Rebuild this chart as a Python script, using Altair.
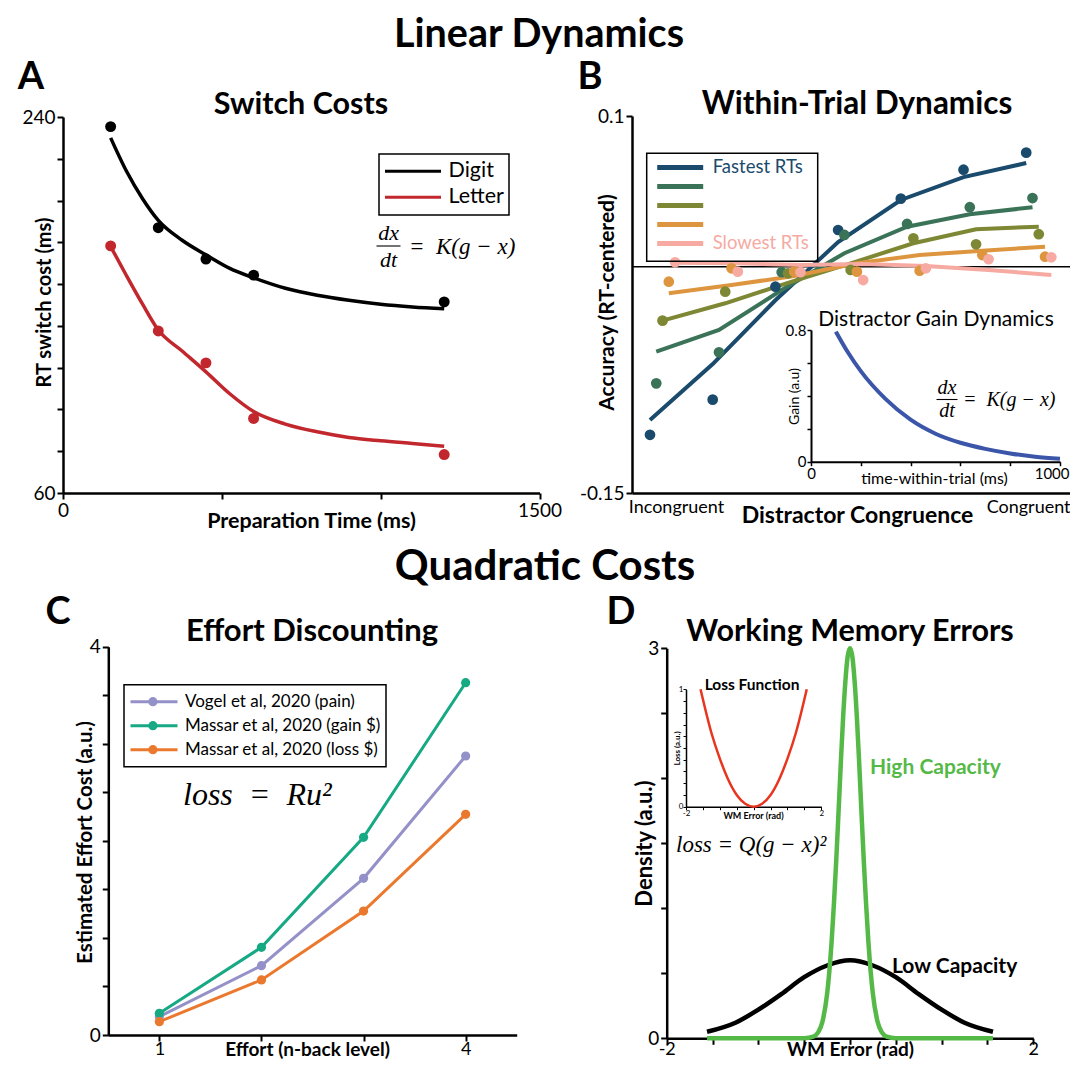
import altair as alt
import pandas as pd

W, H = 1062, 1052
M = 8
FONT = "Lato"
SERIF = "Liberation Serif"
EN = "\u2002"


def px(v):
    return v - M


def py(v):
    return v - M


# ---------------- data ----------------
# Panel A: switch costs
prep_time = [150, 300, 450, 600, 1200]
digit_cost = [235.4, 187.0, 172.0, 164.3, 151.5]
letter_cost = [178.3, 137.6, 122.3, 95.7, 78.4]
fit_time = [150, 200, 250, 300, 375, 450, 525, 600, 700, 800, 900, 1000, 1100, 1200]
digit_fit = [230, 214, 201, 190.5, 181, 174, 167.5, 163, 158, 154.7, 152.3, 150.4, 149.1, 148.2]
letter_fit = [178, 164, 150.5, 138, 128, 118, 107.5, 99, 93, 89.3, 86.6, 85, 83.7, 82.4]
tasks = ["Digit", "Letter"]
task_colors = ["#000000", "#c1272d"]

# Panel B: within-trial dynamics
rt_groups = ["Fastest RTs", "RT bin 2", "RT bin 3", "RT bin 4", "Slowest RTs"]
rt_colors = ["#1b4b6c", "#3a7358", "#7e8733", "#dd963f", "#f6aaa2"]
congruence = [1, 2, 3, 4, 5, 6, 7]
rt_shift = [0.0, 0.1, 0.2, 0.3, 0.4]
acc_points = [
    [-0.1114, -0.0881, -0.0132, 0.0244, 0.0452, 0.0644, 0.0757],
    [-0.0773, -0.0567, -0.0036, 0.0211, 0.0284, 0.0395, 0.0456],
    [-0.0357, -0.0165, -0.0043, -0.0021, 0.0189, 0.0149, 0.0216],
    [-0.0099, -0.0010, -0.0032, -0.0032, -0.0026, 0.0078, 0.0067],
    [0.0030, -0.0032, -0.0036, -0.0088, -0.0010, 0.0050, 0.0063],
]
acc_fit = [
    [-0.1016, -0.0645, -0.0222, 0.0164, 0.0443, 0.0595, 0.0688],
    [-0.0563, -0.0419, -0.0154, 0.0090, 0.0266, 0.0348, 0.0395],
    [-0.0357, -0.0242, -0.0107, 0.0023, 0.0156, 0.0249, 0.0266],
    [-0.0176, -0.0121, -0.0061, 0.0023, 0.0078, 0.0107, 0.0133],
    [0.0027, 0.0023, 0.0012, 0.0019, 0.0005, -0.0021, -0.0054],
]
gain_time = [100, 150, 200, 300, 400, 500, 600, 700, 800, 900, 1000]
gain_value = [0.79, 0.66, 0.55, 0.38, 0.255, 0.17, 0.115, 0.078, 0.05, 0.03, 0.018]

# Panel C: effort discounting
nback = [1, 2, 3, 4]
studies = ["Vogel et al, 2020 (pain)", "Massar et al, 2020 (gain $)", "Massar et al, 2020 (loss $)"]
study_colors = ["#9490c8", "#17a884", "#ea792d"]
vogel = [0.189, 0.714, 1.614, 2.874]
massar_gain = [0.224, 0.903, 2.036, 3.629]
massar_loss = [0.137, 0.567, 1.277, 2.273]

# Panel D: working memory errors
high_x = [-1.56, -0.6, -0.5, -0.4, -0.35, -0.3, -0.25, -0.2, -0.175, -0.15, -0.125, -0.1, -0.075, -0.05, -0.025, 0,
          0.025, 0.05, 0.075, 0.1, 0.125, 0.15, 0.175, 0.2, 0.25, 0.3, 0.35, 0.4, 0.5, 0.6, 1.56]
high_y = [0, 0, 0.0, 0.012, 0.043, 0.13, 0.34, 0.75, 1.04, 1.37, 1.74, 2.12, 2.47, 2.75, 2.94, 3.0,
          2.94, 2.75, 2.47, 2.12, 1.74, 1.37, 1.04, 0.75, 0.34, 0.13, 0.043, 0.012, 0.0, 0, 0]
low_x = [-1.56, -1.25, -1.0, -0.75, -0.5, -0.25, 0, 0.25, 0.5, 0.75, 1.0, 1.25, 1.56]
low_y = [0.05, 0.12, 0.22, 0.34, 0.47, 0.56, 0.60, 0.56, 0.47, 0.34, 0.22, 0.12, 0.05]
loss_x = [-1.57, -1.25, -1.0, -0.75, -0.5, -0.25, 0, 0.25, 0.5, 0.75, 1.0, 1.25, 1.57]
loss_y = [1.0, 0.63, 0.41, 0.23, 0.10, 0.025, 0, 0.025, 0.10, 0.23, 0.41, 0.63, 1.0]

# ---------------- helpers ----------------
_one = pd.DataFrame({"k": [0]})


def scale(domain, r0, r1):
    return alt.Scale(domain=domain, range=[r0, r1], nice=False, zero=False)


def lab_expr(mapping):
    s = "''"
    for v, t in reversed(list(mapping.items())):
        s = f"datum.value == {v} ? '{t}' : {s}"
    return s


def bottom_axis(y_ref, values, labels, title=None, title_x=None, title_dy=None,
                label_size=19, title_size=18, dw=2.5, ts=6, tw=2, pad=2, ticks=True,
                title_weight="bold", **extra):
    kw = dict(orient="bottom", offset=py(y_ref) - H, values=values, labelExpr=lab_expr(labels),
              labelFontSize=label_size, domainWidth=dw, tickWidth=tw, labelPadding=pad,
              ticks=ticks, labelFlush=False, labelOverlap=False, grid=False)
    if ticks:
        kw["tickSize"] = ts
    if title:
        kw.update(title=title, titleX=px(title_x), titleY=title_dy, titleFontSize=title_size,
                  titleFontWeight=title_weight, titleBaseline="middle", titleAlign="center", titleAngle=0)
    else:
        kw["title"] = None
    kw.update(extra)
    return alt.Axis(**kw)


def left_axis(x_ref, values, labels, title=None, title_dx=None, title_y=None,
              label_size=19, title_size=18, dw=2.5, ts=6, tw=2, pad=2, title_weight="bold"):
    kw = dict(orient="left", offset=-px(x_ref), values=values, labelExpr=lab_expr(labels),
              labelFontSize=label_size, domainWidth=dw, tickSize=ts, tickWidth=tw, labelPadding=pad,
              labelFlush=False, labelOverlap=False, grid=False)
    if title:
        kw.update(title=title, titleX=title_dx, titleY=py(title_y), titleFontSize=title_size,
                  titleFontWeight=title_weight, titleBaseline="middle", titleAlign="center", titleAngle=270)
    else:
        kw["title"] = None
    return alt.Axis(**kw)


layers = []


def note(text, x, y, size, weight="normal", color="black", font=FONT, align="center", italic=False):
    kw = dict(text=text, fontSize=size, fontWeight=weight, color=color, font=font, align=align,
              baseline="middle")
    if italic:
        kw["fontStyle"] = "italic"
    layers.append(alt.Chart(_one).mark_text(**kw).encode(x=alt.value(px(x)), y=alt.value(py(y))))


def frac_bar(x1, x2, y, w=1.1):
    layers.append(alt.Chart(_one).mark_rule(color="black", strokeWidth=w).encode(
        x=alt.value(px(x1)), x2=alt.value(px(x2)), y=alt.value(py(y))))


def fraction(cxp, y_mid, half, size, gap):
    note("dx", cxp, y_mid - gap, size, font=SERIF, italic=True)
    frac_bar(cxp - half, cxp + half, y_mid)
    note("dt", cxp, y_mid + gap, size, font=SERIF, italic=True)


# ---------------- Panel A ----------------
xA = scale([0, 1500], px(63), px(539.5))
yA = scale([60, 240], py(493), py(117))
dfA_fit = pd.DataFrame({"t": fit_time * 2, "cost": digit_fit + letter_fit,
                        "task": [tasks[0]] * len(fit_time) + [tasks[1]] * len(fit_time)})
dfA_pts = pd.DataFrame({"t": prep_time * 2, "cost": digit_cost + letter_cost,
                        "task": [tasks[0]] * len(prep_time) + [tasks[1]] * len(prep_time)})
colA = alt.Scale(domain=tasks, range=task_colors)

layers.append(alt.Chart(dfA_fit).mark_line(strokeWidth=3.5, interpolate="monotone").encode(
    x=alt.X("t:Q", scale=xA, axis=bottom_axis(493, [0, 500, 1000, 1500], {0: "0", 1500: "1500"},
                                              "Preparation Time (ms)", 311, 28, title_size=21.5)),
    y=alt.Y("cost:Q", scale=yA, axis=left_axis(63, list(range(60, 241, 20)), {60: "60", 240: "240"},
                                               "RT switch cost (ms)", -19, 302, title_size=20)),
    color=alt.Color("task:N", scale=colA, legend=alt.Legend(
        orient="none", legendX=px(379), legendY=py(154), title=None, symbolType="stroke",
        symbolSize=56 ** 2, symbolStrokeWidth=3, labelFontSize=21.5, labelOffset=6, padding=4.5,
        clipHeight=25.5, rowPadding=0, strokeColor="black", labelLimit=0)),
    detail="task:N",
))
layers.append(alt.Chart(dfA_pts).mark_circle(size=120, opacity=1).encode(
    x=alt.X("t:Q", scale=xA, axis=None),
    y=alt.Y("cost:Q", scale=yA, axis=None),
    color=alt.Color("task:N", scale=colA, legend=None),
))

# ---------------- Panel B ----------------
xB = scale([0.713, 7.73], px(632), px(1072))
yB = scale([-0.15, 0.1], py(493), py(116))
rows_p, rows_f = [], []
for g, name in enumerate(rt_groups):
    for i, lv in enumerate(congruence):
        rows_p.append({"lv": lv + rt_shift[g], "acc": acc_points[g][i], "grp": name})
        rows_f.append({"lv": lv + rt_shift[g], "acc": acc_fit[g][i], "grp": name})
dfB_pts = pd.DataFrame(rows_p)
dfB_fit = pd.DataFrame(rows_f)
colB = alt.Scale(domain=rt_groups, range=rt_colors)
dfB_zero = pd.DataFrame({"x0": [0.713], "x1": [7.73], "y": [0.0]})

layers.append(alt.Chart(dfB_zero).mark_rule(color="black", strokeWidth=1.6).encode(
    x=alt.X("x0:Q", scale=xB, axis=bottom_axis(493, [1.415, 7.03], {1.415: "Incongruent", 7.03: "Congruent"},
                                               "Distractor Congruence", 857, 22, label_size=18,
                                               title_size=23, ticks=False, pad=5)),
    x2="x1:Q",
    y=alt.Y("y:Q", scale=yB, axis=left_axis(632, [-0.15, 0.1], {-0.15: "-0.15", 0.1: "0.1"},
                                            "Accuracy (RT-centered)", -25, 302, title_size=21)),
))
layers.append(alt.Chart(dfB_fit).mark_line(strokeWidth=4).encode(
    x=alt.X("lv:Q", scale=xB, axis=None),
    y=alt.Y("acc:Q", scale=yB, axis=None),
    color=alt.Color("grp:N", scale=colB, legend=alt.Legend(
        orient="none", legendX=px(646.7), legendY=py(153.3), title=None, symbolType="stroke",
        symbolSize=46 ** 2, symbolStrokeWidth=5, labelFontSize=18.5, labelOffset=7, padding=8,
        clipHeight=12.2, rowPadding=0, strokeColor="black", labelLimit=0,
        labelExpr="datum.label == 'Fastest RTs' || datum.label == 'Slowest RTs' ? datum.label : ''",
        labelColor={"expr": f"datum.label == 'Fastest RTs' ? '{rt_colors[0]}' : '{rt_colors[4]}'"})),
))
layers.append(alt.Chart(dfB_pts).mark_circle(size=115, opacity=1).encode(
    x=alt.X("lv:Q", scale=xB, axis=None),
    y=alt.Y("acc:Q", scale=yB, axis=None),
    color=alt.Color("grp:N", scale=colB, legend=None),
))

# inset B
xBi = scale([0, 1000], px(811), px(1060))
yBi = scale([0, 0.8], py(461.7), py(330))
dfB_gain = pd.DataFrame({"t": gain_time, "g": gain_value})
layers.append(alt.Chart(dfB_gain).mark_line(strokeWidth=4, color="#3b55a8", interpolate="monotone").encode(
    x=alt.X("t:Q", scale=xBi, axis=bottom_axis(
        461.7, [0, 200, 400, 600, 800, 1000], {0: "0", 1000: "1000"},
        "time-within-trial (ms)", 934, 17, label_size=15, title_size=16, dw=2, ts=4, tw=1.5, pad=1,
        title_weight="normal",
        labelAlign={"expr": "datum.value == 1000 ? 'right' : 'center'"},
        labelOffset={"expr": "datum.value == 1000 ? 9 : 0"})),
    y=alt.Y("g:Q", scale=yBi, axis=left_axis(811, [0, 0.2, 0.4, 0.6, 0.8], {0: "0", 0.8: "0.8"},
                                             "Gain (a.u)", -17, 396, label_size=15, title_size=14,
                                             dw=2, ts=4, tw=1.5, pad=1, title_weight="normal")),
))

# ---------------- Panel C ----------------
xC = scale([0.5, 4.5], px(108.3), px(516.7))
yC = scale([0, 4], py(1035), py(646.7))
dfC = pd.DataFrame({"n": nback * 3, "cost": vogel + massar_gain + massar_loss,
                    "study": [studies[0]] * 4 + [studies[1]] * 4 + [studies[2]] * 4})
colC = alt.Scale(domain=studies, range=study_colors)
layers.append(alt.Chart(dfC).mark_line(strokeWidth=3).encode(
    x=alt.X("n:Q", scale=xC, axis=bottom_axis(1035, [1, 2, 3, 4], {1: "1", 4: "4"},
                                              "Effort (n-back level)", 307, 14, title_size=19,
                                              label_size=18, pad=8, labelBaseline="middle")),
    y=alt.Y("cost:Q", scale=yC, axis=left_axis(108.3, [0, 0.5, 1, 1.5, 2, 2.5, 3, 3.5, 4], {0: "0", 4: "4"},
                                               "Estimated Effort Cost (a.u.)", -23, 842, title_size=20.5)),
    color=alt.Color("study:N", scale=colC, legend=alt.Legend(
        orient="none", legendX=px(124), legendY=py(684.7), title=None, symbolType="stroke",
        symbolSize=47 ** 2, symbolStrokeWidth=3, labelFontSize=17, labelOffset=6, padding=5,
        clipHeight=24, rowPadding=0, strokeColor="black", labelLimit=0, zindex=1)),
))
layers.append(alt.Chart(dfC).mark_circle(size=85, opacity=1).encode(
    x=alt.X("n:Q", scale=xC, axis=None),
    y=alt.Y("cost:Q", scale=yC, axis=None),
    color=alt.Color("study:N", scale=colC, legend=alt.Legend(
        orient="none", legendX=px(124) + 23.5 - 4.6, legendY=py(684.7), title=None, symbolType="circle",
        symbolSize=85, symbolStrokeWidth=0, labelExpr="''", padding=5, clipHeight=24, rowPadding=0,
        zindex=2)),
))

# ---------------- Panel D ----------------
xD = scale([-2, 2], px(666.7), px(1033.3))
yD = scale([0, 3], py(1038.3), py(648.3))
dfD_low = pd.DataFrame({"e": low_x, "d": low_y})
dfD_high = pd.DataFrame({"e": high_x, "d": high_y})
layers.append(alt.Chart(dfD_low).mark_line(strokeWidth=4.5, color="black", interpolate="monotone").encode(
    x=alt.X("e:Q", scale=xD, axis=bottom_axis(1038.3, [-2, -1.5, -1, -0.5, 0, 0.5, 1, 1.5, 2], {-2: "-2", 2: "2"},
                                              "WM Error (rad)", 850, 11.5, title_size=19,
                                              label_size=18, pad=5.5, labelBaseline="middle")),
    y=alt.Y("d:Q", scale=yD, axis=left_axis(666.7, [0, 0.5, 1, 1.5, 2, 2.5, 3], {0: "0", 3: "3"},
                                            "Density (a.u.)", -22, 843, title_size=22)),
))
layers.append(alt.Chart(dfD_high).mark_line(strokeWidth=4.5, color="#55b947", interpolate="monotone").encode(
    x=alt.X("e:Q", scale=xD, axis=None),
    y=alt.Y("d:Q", scale=yD, axis=None),
))

# inset D
xDi = scale([-2, 2], px(686), px(821.3))
yDi = scale([0, 1], py(806.7), py(689.3))
dfD_loss = pd.DataFrame({"e": loss_x, "l": loss_y})
layers.append(alt.Chart(dfD_loss).mark_line(strokeWidth=2.5, color="#e8351f", interpolate="monotone").encode(
    x=alt.X("e:Q", scale=xDi, axis=bottom_axis(806.7, [-2, -1.5, -1, -0.5, 0, 0.5, 1, 1.5, 2], {-2: "-2", 2: "2"},
                                               "WM Error (rad)", 753, 9, label_size=8, title_size=9,
                                               dw=1.5, ts=3, tw=1, pad=0)),
    y=alt.Y("l:Q", scale=yDi, axis=left_axis(686, [0, 0.1, 0.2, 0.3, 0.4, 0.5, 0.6, 0.7, 0.8, 0.9, 1], {0: "0", 1: "1"},
                                             "Loss (a.u.)", -9, 748, label_size=8, title_size=8,
                                             dw=1.5, ts=3, tw=1, pad=0)),
))

# ---------------- titles and annotations ----------------
note("Linear Dynamics", 539, 35, 39.5, "bold")
note("Quadratic Costs", 545, 567, 42, "bold")
note("A", 31, 78, 38, "bold")
note("B", 590, 78, 38, "bold")
note("C", 58, 613, 38, "bold")
note("D", 621, 613, 38, "bold")
note("Switch Costs", 301, 105, 30.5, "bold")
note("Within-Trial Dynamics", 857, 105, 31.5, "bold")
note("Effort Discounting", 312, 632, 31, "bold")
note("Working Memory Errors", 850, 632, 30.5, "bold")

# panel A equation
fraction(388.5, 246, 12, 22, 13.5)
note("=" + EN + "K(g − x)", 409, 247, 23, font=SERIF, italic=True, align="left")
# panel B inset
note("Distractor Gain Dynamics", 936, 320, 21)
fraction(947, 399.5, 10.5, 20, 11.5)
note("=" + EN + "K(g − x)", 963, 400, 20, font=SERIF, italic=True, align="left")
# panel C
note("loss" + EN + "=" + EN + "Ru²", 183, 795, 32, font=SERIF, italic=True, align="left")
# panel D
note("Loss Function", 752, 685, 15.5, "bold")
note("loss = Q(g − x)²", 676, 845, 23, font=SERIF, italic=True, align="left")
note("High Capacity", 870, 768, 21, "bold", color="#55b947", align="left")
note("Low Capacity", 892, 967, 21, "bold", align="left")

chart = (
    alt.layer(*layers)
    .resolve_scale(x="independent", y="independent", color="independent")
    .resolve_axis(x="independent", y="independent")
    .resolve_legend(color="independent")
    .properties(width=W, height=H, padding=0, autosize=alt.AutoSizeParams(type="none"))
    .configure_view(stroke=None)
    .configure_axis(labelFont=FONT, titleFont=FONT, labelColor="black", titleColor="black",
                    domainColor="black", tickColor="black", grid=False)
    .configure_legend(labelFont=FONT, labelColor="black", strokeWidth=1.5)
)

chart.save("out.html", embed_options={"renderer": "svg", "actions": False})
